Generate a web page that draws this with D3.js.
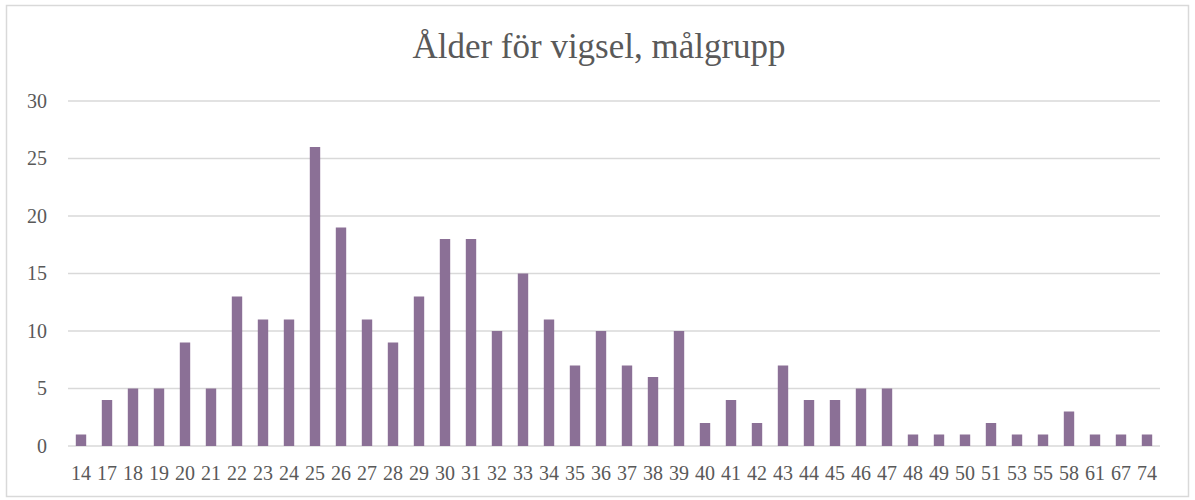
<!DOCTYPE html>
<html>
<head>
<meta charset="utf-8">
<script src="https://cdn.jsdelivr.net/npm/d3@7"></script>
<style>
  body { margin: 0; background: #fff; }
</style>
</head>
<body>
<svg id="chart"></svg>
<script>
const ages = ["14","17","18","19","20","21","22","23","24","25","26","27","28","29","30","31","32","33","34","35","36","37","38","39","40","41","42","43","44","45","46","47","48","49","50","51","53","55","58","61","67","74"];
const counts = [1,4,5,5,9,5,13,11,11,26,19,11,9,13,18,18,10,15,11,7,10,7,6,10,2,4,2,7,4,4,5,5,1,1,1,2,1,1,3,1,1,1];
const yTicks = [0, 5, 10, 15, 20, 25, 30];
const title = "Ålder för vigsel, målgrupp";

const W = 1195, H = 500;
const margin = { top: 101, right: 35, bottom: 54, left: 68 };
const width = W - margin.left - margin.right;
const height = H - margin.top - margin.bottom;
const font = "'Liberation Serif', 'Times New Roman', serif";

const svg = d3.select("#chart").attr("width", W).attr("height", H);

// outer chart border
svg.append("rect")
    .attr("x", 6.5).attr("y", 5.5)
    .attr("width", 1182).attr("height", 491)
    .attr("fill", "none")
    .attr("stroke", "#d9d9d9")
    .attr("stroke-width", 1.5);

svg.append("text")
    .attr("x", 599).attr("y", 58)
    .attr("text-anchor", "middle")
    .attr("font-family", font)
    .attr("fill", "#595959")
    .style("font-size", "35px")
    .text(title);

const g = svg.append("g").attr("transform", `translate(${margin.left},${margin.top})`);

const x = d3.scaleBand().domain(ages).range([0, width]).paddingInner(0.6).paddingOuter(0.3);
const y = d3.scaleLinear().domain([0, 30]).range([height, 0]);

// gridlines
g.selectAll(".grid")
    .data(yTicks)
    .enter()
    .append("line")
    .attr("x1", 0).attr("x2", width)
    .attr("y1", d => y(d)).attr("y2", d => y(d))
    .attr("stroke", "#d9d9d9")
    .attr("stroke-width", 1.5);

const yAxis = g.append("g")
    .call(d3.axisLeft(y).tickValues(yTicks).tickSize(0).tickPadding(21));
yAxis.select(".domain").remove();
yAxis.selectAll("text")
    .attr("font-family", font)
    .style("font-size", "20px")
    .attr("fill", "#595959");

g.selectAll(".bar")
    .data(counts)
    .enter()
    .append("rect")
    .attr("class", "bar")
    .attr("x", (d, i) => x(ages[i]))
    .attr("width", x.bandwidth())
    .attr("y", d => y(d))
    .attr("height", d => height - y(d))
    .attr("fill", "#8b7096");

const xAxis = g.append("g")
    .attr("transform", `translate(0,${height})`)
    .call(d3.axisBottom(x).tickSize(0).tickPadding(20));
xAxis.select(".domain").remove();
xAxis.selectAll("text")
    .attr("font-family", font)
    .style("font-size", "20px")
    .attr("fill", "#595959");
</script>
</body>
</html>
